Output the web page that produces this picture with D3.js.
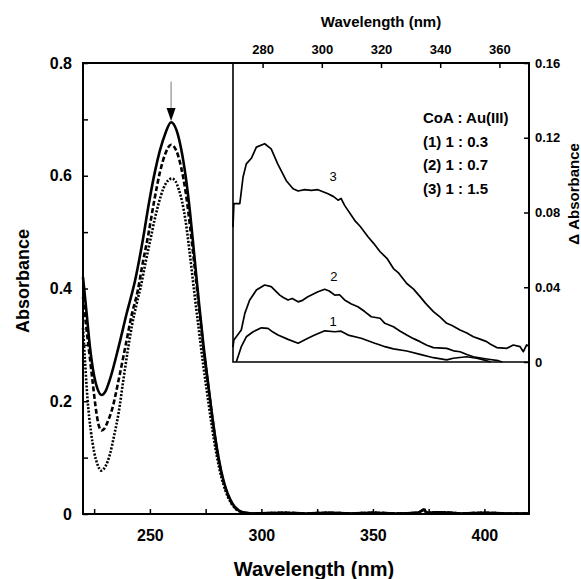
<!DOCTYPE html>
<html>
<head>
<meta charset="utf-8">
<script src="https://cdn.jsdelivr.net/npm/d3@7"></script>
<style>
  body { margin: 0; background: #fff; }
  svg text { font-family: "Liberation Sans", Arial, sans-serif; font-weight: bold; fill: #000; }
</style>
</head>
<body>
<div id="main"></div>
<script>
// main spectra (wavelength nm, absorbance)
const solidCurve = [[220,0.42],[221.6,0.357],[223.1,0.297],[225,0.245],[226.5,0.222],[228.4,0.211],[230,0.217],[232,0.238],[236,0.297],[239.6,0.356],[243.4,0.415],[247,0.49],[249.5,0.55],[252.4,0.61],[254.5,0.645],[257,0.676],[259.5,0.695],[262,0.68],[264,0.648],[266,0.6],[268,0.535],[270,0.455],[272,0.375],[274,0.3],[276,0.235],[278,0.172],[280,0.118],[282,0.076],[284,0.046],[286,0.026],[288,0.013],[290,0.006],[293,0.002],[296,0.001]];
const dashedCurve = [[220,0.385],[221.5,0.33],[223,0.28],[224.5,0.228],[226,0.18],[227,0.158],[228.3,0.148],[229.7,0.152],[231,0.163],[233,0.185],[236,0.238],[239,0.297],[242,0.356],[244.5,0.395],[246.5,0.439],[249.4,0.498],[252,0.557],[254.6,0.608],[257,0.64],[259.5,0.655],[262,0.643],[264,0.615],[266,0.572],[268,0.51],[270,0.44],[272,0.367],[274,0.295],[276,0.232],[278,0.17],[280,0.115],[282,0.073],[284,0.044],[286,0.024],[288,0.012],[290,0.005],[293,0.002],[296,0.001]];
const dottedCurve = [[220,0.33],[221,0.265],[222,0.205],[223.5,0.148],[225,0.11],[226.5,0.088],[228.1,0.077],[230,0.084],[232,0.105],[234,0.14],[236,0.18],[238,0.235],[240,0.288],[242,0.335],[244,0.372],[246,0.405],[248,0.445],[250,0.482],[252,0.52],[254,0.552],[256,0.577],[258,0.591],[259.8,0.595],[261.5,0.59],[263,0.575],[264.5,0.553],[266,0.52],[268,0.458],[270,0.39],[272,0.325],[274,0.262],[276,0.205],[278,0.15],[280,0.103],[282,0.066],[284,0.04],[286,0.022],[288,0.011],[290,0.005],[293,0.002],[296,0.001]];
const baseTail = [[296,0.001],[310,0.002],[320,0.001],[330,0.002],[340,0.001],[350,0.002],[360,0.001],[370,0.002],[372,0.006],[373,0.008],[374,0.002],[380,0.003],[390,0.001],[400,0.002],[410,0.001],[420,0.001]];

// inset difference spectra (wavelength nm, delta absorbance)
const diff3 = [[270,0.0723],[270.3,0.0848],[272.3,0.0848],[273.4,0.099],[274.5,0.106],[276.2,0.109],[277.9,0.115],[280.7,0.1168],[282.9,0.114],[285.1,0.106],[288,0.097],[290.3,0.0927],[292,0.0915],[294.2,0.0922],[296.5,0.0918],[298.7,0.0922],[302.1,0.09],[304,0.0885],[305.5,0.0866],[306.5,0.0875],[307.7,0.0838],[311.1,0.0758],[313,0.0725],[315.6,0.067],[317.5,0.0635],[319.7,0.059],[322,0.0555],[324.2,0.05],[326,0.0475],[328.7,0.042],[331,0.039],[333.2,0.035],[335,0.0315],[337.7,0.027],[340,0.024],[342.2,0.0207],[344,0.0195],[346.7,0.0171],[349,0.0155],[351.2,0.0135],[353,0.0125],[355.7,0.0109],[357,0.0095],[359.1,0.0077],[362.5,0.0073],[364.7,0.0091],[367,0.0082],[368.1,0.0055],[369.2,0.0091],[370,0.0085]];
const diff2 = [[270,0.008],[270.3,0.0118],[272.8,0.0171],[274,0.026],[275.6,0.033],[277.9,0.0385],[280.7,0.0412],[282.9,0.0403],[285.8,0.0358],[287,0.0345],[288.6,0.0332],[290,0.034],[292,0.0322],[293.5,0.033],[295.3,0.0349],[298.7,0.0376],[301,0.0389],[302.5,0.038],[304.4,0.0358],[306,0.036],[307.7,0.0332],[310,0.031],[312.2,0.0296],[314.5,0.027],[316.7,0.0242],[319.7,0.0234],[321.3,0.0207],[324.2,0.0189],[326.5,0.0165],[328.7,0.0144],[331,0.0125],[333.2,0.0109],[335.5,0.009],[337.7,0.0077],[342.2,0.0073],[344.5,0.006],[346.7,0.0055],[349,0.004],[351.2,0.0028],[355.7,0.0016],[359.6,0.0007],[361,0]];
const diff1 = [[271.1,0],[272.8,0.0082],[274.5,0.0135],[276.8,0.0162],[279.6,0.0183],[281.8,0.018],[283.5,0.016],[285.2,0.0144],[288.6,0.0121],[292,0.01],[295.3,0.0127],[297.6,0.0144],[301,0.0167],[304.4,0.0162],[306.5,0.0165],[308.9,0.0144],[313.3,0.0127],[317.9,0.01],[319.7,0.0091],[321.3,0.0082],[324.2,0.007],[328.7,0.0059],[333.2,0.0041],[337.7,0.0023],[342.2,0.0011],[344.4,0.002],[348.9,0.0028],[352.3,0.002],[355.7,0.0007],[357,0]];

const mainXTicks = [225,250,275,300,325,350,375,400];
const mainYTicks = [0,0.1,0.2,0.3,0.4,0.5,0.6,0.7,0.8];
const insetXTicks = [280,300,320,340,360];
const insetYTicks = [0,0.04,0.08,0.12,0.16];
const legendLines = ["CoA : Au(III)","(1) 1 : 0.3","(2) 1 : 0.7","(3) 1 : 1.5"];
const curveLabels = [{t:"3",w:303.8,v:0.0995},{t:"2",w:304.1,v:0.0458},{t:"1",w:303.8,v:0.0215}];

ctx = {
    width: 581,
    height: 579,
    svg: null,
};

let x = d3.scaleLinear().domain([220, 420]).range([83, 529]);
let y = d3.scaleLinear().domain([0, 0.8]).range([514, 63]);
let xi = d3.scaleLinear().domain([270, 370]).range([233, 529]);
let yi = d3.scaleLinear().domain([0, 0.16]).range([362, 63]);

function styleAxis(g, size) {
    g.select(".domain").remove();
    g.selectAll(".tick line").attr("stroke", "#000").attr("stroke-width", 1.5);
    g.selectAll(".tick text").style("font-size", size + "px");
}

function drawMain(svg) {
    let line = d3.line().x(d => x(d[0])).y(d => y(d[1])).curve(d3.curveMonotoneX);

    let series = [
        {data: dottedCurve, dash: "2,1.6"},
        {data: dashedCurve, dash: "5,2.5"},
        {data: solidCurve, dash: null},
    ];
    series.forEach(s => {
        svg.append("path")
            .attr("d", line(s.data.concat(baseTail)))
            .attr("fill", "none")
            .attr("stroke", "#000")
            .attr("stroke-width", 2.6)
            .attr("stroke-dasharray", s.dash);
    });

    // arrow above the peak
    let ax = x(259.5);
    svg.append("line")
        .attr("x1", ax).attr("x2", ax)
        .attr("y1", y(0.767)).attr("y2", y(0.72))
        .attr("stroke", "#777").attr("stroke-width", 1);
    svg.append("path")
        .attr("d", `M${ax - 4.5},${y(0.72)} L${ax + 4.5},${y(0.72)} L${ax},${y(0.697)} Z`)
        .attr("fill", "#000");

    let xAxis = svg.append("g")
        .attr("transform", "translate(0,514)")
        .call(d3.axisBottom(x).tickValues(mainXTicks).tickSize(-5).tickPadding(16)
            .tickFormat(d => d % 50 === 0 ? d : ""));
    styleAxis(xAxis, 16);

    let yAxis = svg.append("g")
        .attr("transform", "translate(83,0)")
        .call(d3.axisLeft(y).tickValues(mainYTicks).tickSize(-5).tickPadding(11)
            .tickFormat(d => Math.round(d * 10) % 2 === 0 ? (d === 0 ? "0" : d3.format(".1f")(d)) : ""));
    styleAxis(yAxis, 16);

    svg.append("text")
        .attr("x", 314).attr("y", 576)
        .attr("text-anchor", "middle")
        .style("font-size", "20px")
        .text("Wavelength (nm)");

    svg.append("text")
        .attr("transform", "translate(29,281) rotate(-90)")
        .attr("text-anchor", "middle")
        .style("font-size", "18px")
        .text("Absorbance");
}

function drawInset(svg) {
    let line = d3.line().x(d => xi(d[0])).y(d => yi(d[1]));

    [diff1, diff2, diff3].forEach(d => {
        svg.append("path")
            .attr("d", line(d))
            .attr("fill", "none")
            .attr("stroke", "#000")
            .attr("stroke-width", 1.7)
            .attr("stroke-linejoin", "round");
    });

    svg.selectAll(".clabel")
        .data(curveLabels)
        .enter().append("text")
        .attr("x", d => xi(d.w)).attr("y", d => yi(d.v))
        .attr("dy", "0.35em")
        .attr("text-anchor", "middle")
        .style("font-size", "13px")
        .style("font-weight", "normal")
        .text(d => d.t);

    // inset frame (left and bottom)
    svg.append("path")
        .attr("d", `M${xi(270)},${yi(0.16)} V${yi(0)} H${xi(370)}`)
        .attr("fill", "none").attr("stroke", "#000").attr("stroke-width", 1.6);

    let topAxis = svg.append("g")
        .attr("transform", "translate(0,63)")
        .call(d3.axisTop(xi).tickValues(insetXTicks).tickSize(-5).tickPadding(9));
    styleAxis(topAxis, 13);

    let rightAxis = svg.append("g")
        .attr("transform", "translate(529,0)")
        .call(d3.axisRight(yi).tickValues(insetYTicks).tickSize(-5).tickPadding(6)
            .tickFormat(d => d === 0 ? "0" : d3.format(".2f")(d)));
    styleAxis(rightAxis, 13);

    svg.append("text")
        .attr("x", 381).attr("y", 27)
        .attr("text-anchor", "middle")
        .style("font-size", "15px")
        .text("Wavelength (nm)");

    svg.append("text")
        .attr("transform", "translate(579,194) rotate(-90)")
        .attr("text-anchor", "middle")
        .style("font-size", "15px")
        .text("\u0394 Absorbance");

    svg.selectAll(".legend")
        .data(legendLines)
        .enter().append("text")
        .attr("x", 423)
        .attr("y", (d, i) => 118 + i * 23.5)
        .attr("dy", "0.35em")
        .style("font-size", "15px")
        .text(d => d);
}

function createViz() {
    let svgEl = d3.select("#main").append("svg");
    svgEl.attr("width", ctx.width);
    svgEl.attr("height", ctx.height);
    ctx.svg = svgEl;

    drawMain(svgEl);
    drawInset(svgEl);

    // main frame
    svgEl.append("rect")
        .attr("x", 83).attr("y", 63)
        .attr("width", 529 - 83).attr("height", 514 - 63)
        .attr("fill", "none").attr("stroke", "#000").attr("stroke-width", 2);
}

createViz();
</script>
</body>
</html>
